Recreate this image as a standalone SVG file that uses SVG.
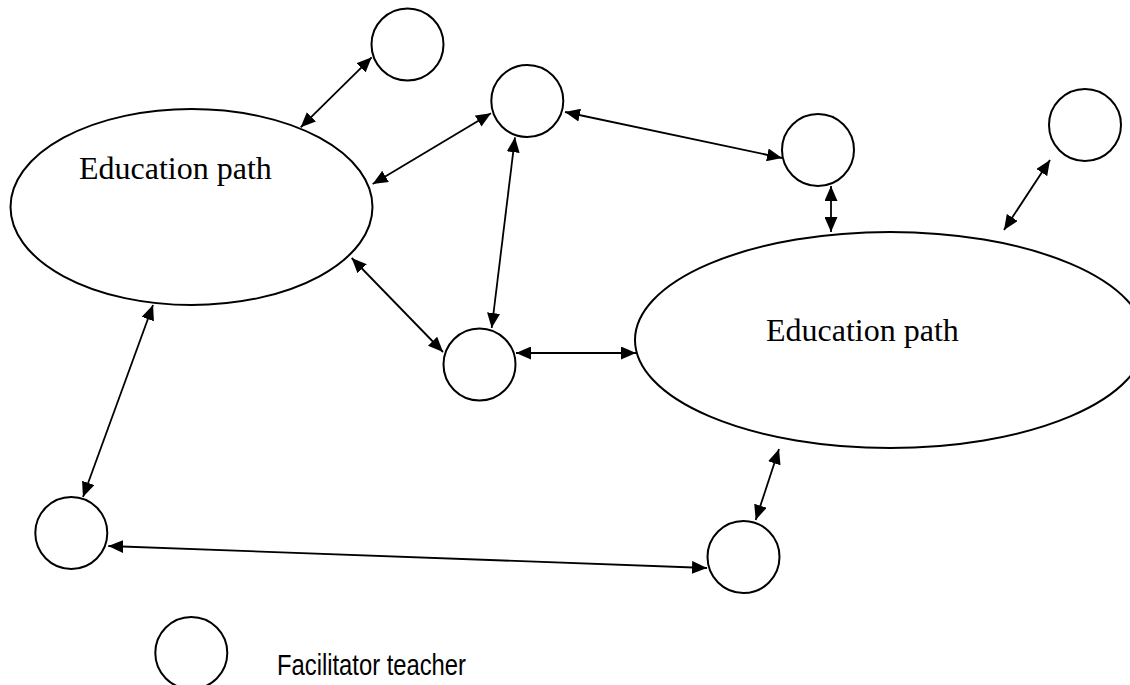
<svg xmlns="http://www.w3.org/2000/svg" width="1130" height="685" viewBox="0 0 1130 685">
<style>
.node{fill:#fff;stroke:#000;stroke-width:2}
.big{fill:#fff;stroke:#000;stroke-width:2}
.conn line{stroke:#000;stroke-width:1.8;marker-start:url(#ah);marker-end:url(#ah)}
.lbl{font-family:"Liberation Serif","Times New Roman",serif;font-size:32px;fill:#000}
.leg{font-family:"Liberation Sans Narrow","Liberation Sans",Arial,sans-serif;font-size:29px;fill:#000}
</style>
<defs>
<marker id="ah" viewBox="0 0 15 13" refX="15" refY="6.5" markerWidth="15" markerHeight="13" markerUnits="userSpaceOnUse" orient="auto-start-reverse">
<path d="M0,0 L15,6.5 L0,13 z" fill="#000"/>
</marker>
</defs>
<rect width="1130" height="685" fill="#fff"/>
<g id="path-left">
<ellipse class="big" cx="191.5" cy="207" rx="181" ry="98"/>
<text class="lbl" x="79" y="179">Education path</text>
</g>
<g id="path-right">
<ellipse class="big" cx="890" cy="340" rx="255" ry="108"/>
<text class="lbl" x="766" y="341">Education path</text>
</g>
<g id="t1"><circle class="node" cx="407.5" cy="44.5" r="36"/></g>
<g id="t2"><circle class="node" cx="527.3" cy="101" r="36"/></g>
<g id="t3"><circle class="node" cx="818" cy="150" r="36"/></g>
<g id="t4"><circle class="node" cx="1085" cy="125" r="36"/></g>
<g id="t5"><circle class="node" cx="479.5" cy="364.5" r="36"/></g>
<g id="t6"><circle class="node" cx="71.3" cy="533" r="36"/></g>
<g id="t7"><circle class="node" cx="743.5" cy="557" r="36"/></g>
<g id="legend">
<circle class="node" cx="191.3" cy="653" r="36"/>
<text class="leg" x="277" y="675" textLength="189" lengthAdjust="spacingAndGlyphs">Facilitator teacher</text>
</g>
<g id="connectors" class="conn">
<line x1="371.7" y1="57.3" x2="300.7" y2="127.3"/>
<line x1="491" y1="113.3" x2="372.7" y2="184"/>
<line x1="565" y1="112" x2="782" y2="158"/>
<line x1="515" y1="137.3" x2="491.7" y2="328"/>
<line x1="351.7" y1="258" x2="443" y2="352"/>
<line x1="516" y1="353" x2="636" y2="353"/>
<line x1="831" y1="186" x2="831" y2="232"/>
<line x1="1050" y1="160" x2="1004" y2="230"/>
<line x1="153" y1="305" x2="83" y2="497"/>
<line x1="108.3" y1="546" x2="707" y2="568"/>
<line x1="779" y1="449" x2="755.7" y2="520"/>
</g>
</svg>
